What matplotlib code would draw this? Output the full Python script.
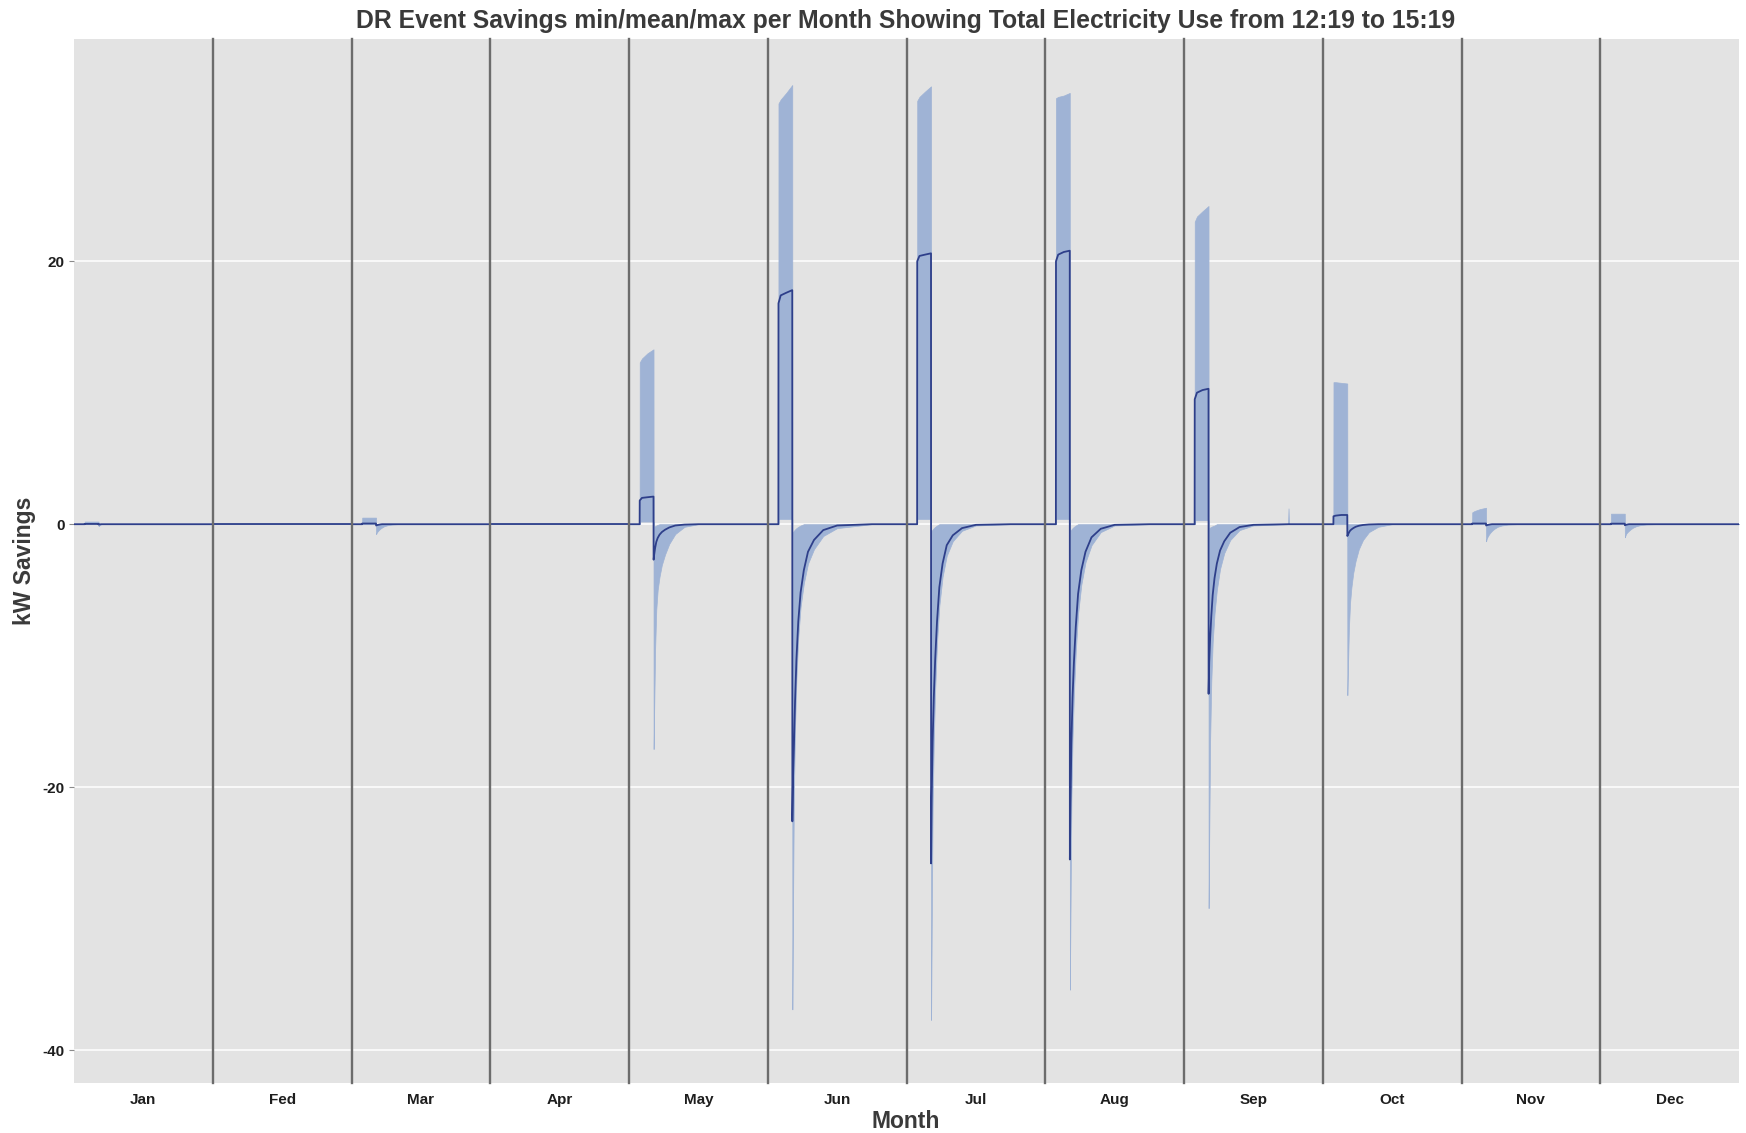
import matplotlib
matplotlib.use("Agg")
import matplotlib.pyplot as plt

plt.rcParams['font.family'] = ['Liberation Sans', 'DejaVu Sans']

# facet labels (spelling kept as in the source data)
months = ['Jan', 'Fed', 'Mar', 'Apr', 'May', 'Jun', 'Jul', 'Aug', 'Sep', 'Oct', 'Nov', 'Dec']

# hour of day within each facet; event runs 12:19 -> 15:19
hours = [10.0, 12.30, 12.32, 12.8, 14.0, 15.30, 15.32, 15.45, 15.65, 15.9, 16.2,
         16.6, 17.1, 17.8, 18.7, 20.0, 22.0, 25.0, 32.5, 32.6, 32.7, 40.0]

# mean kW savings per month
mean_kw = [
    [0, 0, 0.02, 0.02, 0.02, 0.02, -0.03, -0.02, -0.01, 0, 0, 0, 0, 0, 0, 0, 0, 0, 0, 0, 0, 0],
    [0, 0, 0, 0, 0, 0, 0, 0, 0, 0, 0, 0, 0, 0, 0, 0, 0, 0, 0, 0, 0, 0],
    [0, 0, 0.05, 0.05, 0.05, 0.05, -0.1, -0.08, -0.06, -0.04, -0.02, 0, 0, 0, 0, 0, 0, 0, 0, 0, 0, 0],
    [0, 0, 0, 0, 0, 0, 0, 0, 0, 0, 0, 0, 0, 0, 0, 0, 0, 0, 0, 0, 0, 0],
    [0, 0, 1.8, 2.0, 2.05, 2.1, -2.7, -2.3, -1.8, -1.35, -1.05, -0.8, -0.6, -0.42, -0.25, -0.1, -0.03, 0, 0, 0, 0, 0],
    [0, 0, 16.8, 17.4, 17.6, 17.8, -22.6, -19.5, -17.0, -13.5, -10.3, -7.4, -5.2, -3.5, -2.1, -1.2, -0.45, -0.1, 0, 0, 0, 0],
    [0, 0, 20.0, 20.4, 20.5, 20.6, -25.8, -20.8, -16.5, -13.2, -10.3, -7.4, -4.8, -3.0, -1.6, -0.85, -0.3, -0.05, 0, 0, 0, 0],
    [0, 0, 20.0, 20.5, 20.7, 20.8, -25.5, -21.5, -16.7, -13.2, -10.5, -7.8, -5.3, -3.5, -2.1, -1.0, -0.35, -0.05, 0, 0, 0, 0],
    [0, 0, 9.5, 10.0, 10.2, 10.3, -12.9, -10.5, -8.7, -7.0, -5.4, -4.1, -3.0, -2.0, -1.3, -0.65, -0.22, -0.05, 0, 0, 0, 0],
    [0, 0, 0.6, 0.65, 0.7, 0.7, -0.9, -0.8, -0.65, -0.5, -0.4, -0.3, -0.2, -0.12, -0.06, -0.02, 0, 0, 0, 0, 0, 0],
    [0, 0, 0.05, 0.05, 0.05, 0.05, -0.1, -0.08, -0.06, -0.04, -0.02, 0, 0, 0, 0, 0, 0, 0, 0, 0, 0, 0],
    [0, 0, 0.04, 0.04, 0.04, 0.04, -0.08, -0.06, -0.04, -0.02, 0, 0, 0, 0, 0, 0, 0, 0, 0, 0, 0, 0],
]

# minimum kW savings per month
min_kw = [
    [0, 0, 0, 0, 0, 0, -0.15, -0.1, -0.05, 0, 0, 0, 0, 0, 0, 0, 0, 0, 0, 0, 0, 0],
    [0, 0, 0, 0, 0, 0, 0, 0, 0, 0, 0, 0, 0, 0, 0, 0, 0, 0, 0, 0, 0, 0],
    [0, 0, 0, 0, 0, 0, -0.75, -0.65, -0.55, -0.45, -0.35, -0.25, -0.15, -0.08, -0.03, 0, 0, 0, 0, 0, 0, 0],
    [0, 0, 0, 0, 0, 0, 0, 0, 0, 0, 0, 0, 0, 0, 0, 0, 0, 0, 0, 0, 0, 0],
    [0, 0, 0.2, 0.2, 0.2, 0.2, -17.1, -14.0, -9.5, -6.5, -5.0, -4.0, -3.1, -2.3, -1.5, -0.75, -0.2, 0, 0, 0, 0, 0],
    [0, 0, 0.4, 0.4, 0.4, 0.4, -36.9, -30.0, -20.5, -15.5, -11.8, -8.6, -6.3, -4.5, -3.0, -1.9, -0.9, -0.3, 0, 0, 0, 0],
    [0, 0, 0.4, 0.4, 0.4, 0.4, -37.7, -31.0, -21.5, -16.5, -12.6, -9.0, -6.2, -4.0, -2.4, -1.3, -0.5, -0.1, 0, 0, 0, 0],
    [0, 0, 0.4, 0.4, 0.4, 0.4, -35.4, -30.0, -21.0, -16.3, -12.9, -9.7, -6.8, -4.6, -2.9, -1.6, -0.6, -0.1, 0, 0, 0, 0],
    [0, 0, 0.3, 0.3, 0.3, 0.3, -29.2, -24.0, -16.5, -12.0, -9.0, -6.8, -5.0, -3.4, -2.2, -1.2, -0.45, -0.1, 0, 0, 0, 0],
    [0, 0, 0, 0, 0, 0, -13.0, -11.0, -8.0, -6.0, -4.8, -3.7, -2.8, -1.9, -1.2, -0.6, -0.2, 0, 0, 0, 0, 0],
    [0, 0, 0, 0, 0, 0, -1.3, -1.1, -0.95, -0.8, -0.65, -0.5, -0.35, -0.2, -0.1, -0.03, 0, 0, 0, 0, 0, 0],
    [0, 0, 0, 0, 0, 0, -1.0, -0.85, -0.7, -0.6, -0.5, -0.38, -0.26, -0.15, -0.07, -0.02, 0, 0, 0, 0, 0, 0],
]

# maximum kW savings per month
max_kw = [
    [0, 0, 0.2, 0.2, 0.2, 0.2, 0, 0, 0, 0, 0, 0, 0, 0, 0, 0, 0, 0, 0, 0, 0, 0],
    [0, 0, 0, 0, 0, 0, 0, 0, 0, 0, 0, 0, 0, 0, 0, 0, 0, 0, 0, 0, 0, 0],
    [0, 0, 0.5, 0.5, 0.5, 0.5, 0, 0, 0, 0, 0, 0, 0, 0, 0, 0, 0, 0, 0, 0, 0, 0],
    [0, 0, 0, 0, 0, 0, 0, 0, 0, 0, 0, 0, 0, 0, 0, 0, 0, 0, 0, 0, 0, 0],
    [0, 0, 12.3, 12.6, 13.0, 13.3, -0.2, -0.2, -0.15, -0.1, -0.05, 0, 0, 0, 0, 0, 0, 0, 0, 0, 0, 0],
    [0, 0, 32.0, 32.3, 32.8, 33.4, -0.6, -0.6, -0.5, -0.4, -0.3, -0.2, -0.1, 0, 0, 0, 0, 0, 0, 0, 0, 0],
    [0, 0, 32.2, 32.5, 32.9, 33.3, -0.5, -0.5, -0.4, -0.3, -0.2, -0.1, 0, 0, 0, 0, 0, 0, 0, 0, 0, 0],
    [0, 0, 32.4, 32.5, 32.6, 32.8, -0.5, -0.5, -0.4, -0.3, -0.2, -0.1, 0, 0, 0, 0, 0, 0, 0, 0, 0, 0],
    [0, 0, 23.0, 23.4, 23.8, 24.2, -0.3, -0.3, -0.25, -0.2, -0.15, -0.1, 0, 0, 0, 0, 0, 0, 0, 1.2, 0, 0],
    [0, 0, 10.8, 10.8, 10.75, 10.7, 0, 0, 0, 0, 0, 0, 0, 0, 0, 0, 0, 0, 0, 0, 0, 0],
    [0, 0, 0.9, 1.0, 1.15, 1.25, 0, 0, 0, 0, 0, 0, 0, 0, 0, 0, 0, 0, 0, 0, 0, 0],
    [0, 0, 0.8, 0.8, 0.8, 0.8, 0, 0, 0, 0, 0, 0, 0, 0, 0, 0, 0, 0, 0, 0, 0, 0],
]

y_ticks = [-40, -20, 0, 20]

W, H = 1746, 1133
fig = plt.figure(figsize=(W / 100, H / 100), dpi=100)
gs = fig.add_gridspec(1, 12, left=74 / W, right=1739 / W, top=1 - 39 / H,
                      bottom=1 - 1083 / H, wspace=0)

ribbon = '#9FB3D5'
for i, m in enumerate(months):
    ax = fig.add_subplot(gs[0, i])
    ax.set_facecolor('#E3E3E3')
    for y in y_ticks:
        ax.axhline(y, color='white', lw=1.1, zorder=0)
    ax.fill_between(hours, min_kw[i], max_kw[i], facecolor=ribbon,
                    edgecolor=ribbon, lw=0.5, zorder=1)
    ax.plot(hours, mean_kw[i], color='#2E3F8A', lw=1.3, zorder=2)
    ax.set_xlim(10, 40)
    ax.set_ylim(-42.5, 36.9)

    for side in ('top', 'right', 'bottom', 'left'):
        ax.spines[side].set_visible(False)
    if i > 0:
        ax.spines['left'].set_visible(True)
        ax.spines['left'].set_color('#6C6C6C')
        ax.spines['left'].set_linewidth(1.7)
        ax.spines['left'].set_zorder(3)

    ax.set_xticks([25])
    ax.set_xticklabels([m], fontsize=11, fontweight='bold', color='#1E1E1E')
    ax.tick_params(axis='x', length=0, pad=7)

    ax.set_yticks(y_ticks)
    if i == 0:
        ax.set_yticklabels([str(v) for v in y_ticks], fontsize=11,
                           fontweight='bold', color='#1E1E1E')
        ax.tick_params(axis='y', length=3.5, width=0.8, color='#8A8A8A', pad=3)
    else:
        ax.tick_params(axis='y', length=0, labelleft=False)

fig.text(906 / W, 1 - 21 / H,
         'DR Event Savings min/mean/max per Month Showing Total Electricity Use from 12:19 to 15:19',
         ha='center', va='center', fontsize=17.8, fontweight='bold', color='#3A3A3A')
fig.text(906 / W, 1 - 1122 / H, 'Month', ha='center', va='center',
         fontsize=16.5, fontweight='bold', color='#3A3A3A')
fig.text(25 / W, 1 - 561 / H, 'kW Savings', ha='center', va='center', rotation=90,
         fontsize=16.5, fontweight='bold', color='#3A3A3A')

fig.savefig('out.png', dpi=100)
